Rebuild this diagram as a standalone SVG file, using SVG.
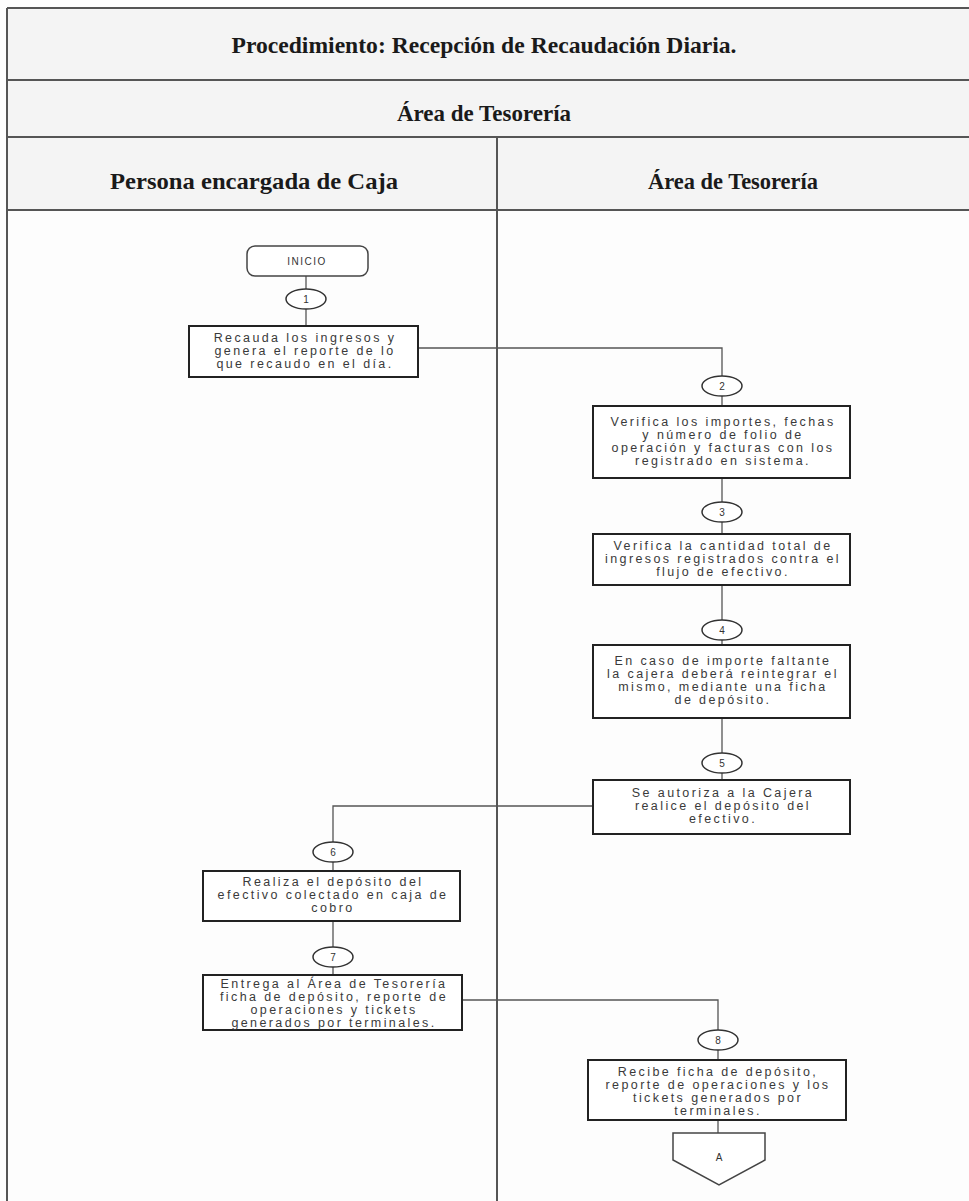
<svg xmlns="http://www.w3.org/2000/svg" width="969" height="1201" viewBox="0 0 969 1201">
<defs>
<style>
.frame{fill:none;stroke:#555;stroke-width:2}
.hdr{font-family:"Liberation Serif","Times New Roman",serif;font-weight:bold;fill:#1a1a1a;text-anchor:middle}
.box{fill:#fff;stroke:#222;stroke-width:2}
.term{fill:#fff;stroke:#444;stroke-width:1.5}
.num{fill:#fff;stroke:#333;stroke-width:1.5}
.t{font-family:"Liberation Sans",Arial,sans-serif;font-size:12.5px;letter-spacing:2.4px;fill:#3a3a3a;text-anchor:middle}
.n{font-family:"Liberation Sans",Arial,sans-serif;font-size:10px;fill:#333;text-anchor:middle}
.conn{fill:none;stroke:#555;stroke-width:1.3}
</style>
</defs>
<rect x="0" y="0" width="969" height="1201" fill="#fdfdfd"/>
<g id="table">
<rect x="7" y="8" width="962" height="202" fill="#f4f4f4"/>
<line class="frame" x1="7" y1="8" x2="969" y2="8"/>
<line class="frame" x1="7" y1="80" x2="969" y2="80"/>
<line class="frame" x1="7" y1="137" x2="969" y2="137"/>
<line class="frame" x1="7" y1="210" x2="969" y2="210"/>
<line class="frame" x1="7" y1="8" x2="7" y2="1201"/>
<line class="frame" x1="497" y1="137" x2="497" y2="1201" stroke-width="1.5"/>
<text class="hdr" x="484" y="53" font-size="23" textLength="505" lengthAdjust="spacingAndGlyphs">Procedimiento: Recepción de Recaudación Diaria.</text>
<text class="hdr" x="484" y="121" font-size="23" textLength="174" lengthAdjust="spacingAndGlyphs">Área de Tesorería</text>
<text class="hdr" x="254" y="189" font-size="24" textLength="288" lengthAdjust="spacingAndGlyphs">Persona encargada de Caja</text>
<text class="hdr" x="733" y="189" font-size="24" textLength="170" lengthAdjust="spacingAndGlyphs">Área de Tesorería</text>
</g>
<g id="connectors">
<line class="conn" x1="306" y1="276" x2="306" y2="289"/>
<line class="conn" x1="306" y1="309" x2="306" y2="326"/>
<path class="conn" d="M418,348 H722 V376"/>
<line class="conn" x1="722" y1="396" x2="722" y2="406"/>
<line class="conn" x1="722" y1="478" x2="722" y2="502"/>
<line class="conn" x1="722" y1="522" x2="722" y2="534"/>
<line class="conn" x1="722" y1="585" x2="722" y2="620"/>
<line class="conn" x1="722" y1="640" x2="722" y2="645"/>
<line class="conn" x1="722" y1="718" x2="722" y2="753"/>
<line class="conn" x1="722" y1="773" x2="722" y2="780"/>
<path class="conn" d="M593,806 H333 V842"/>
<line class="conn" x1="333" y1="862" x2="333" y2="871"/>
<line class="conn" x1="333" y1="921" x2="333" y2="947"/>
<line class="conn" x1="333" y1="967" x2="333" y2="975"/>
<path class="conn" d="M462,1000 H718 V1030"/>
<line class="conn" x1="718" y1="1050" x2="718" y2="1060"/>
<line class="conn" x1="718" y1="1120" x2="718" y2="1133"/>
</g>
<g id="inicio">
<rect class="term" x="247" y="246" width="121" height="30" rx="8"/>
<text class="n" x="307" y="265" font-size="11" letter-spacing="1.5">INICIO</text>
</g>
<g id="n1">
<ellipse class="num" cx="306" cy="299" rx="20" ry="10"/>
<text class="n" x="306" y="303">1</text>
</g>
<g id="step1">
<rect class="box" x="189" y="326" width="229" height="51"/>
<text class="t" x="305" y="342">Recauda los ingresos y</text>
<text class="t" x="305" y="355">genera el reporte de lo</text>
<text class="t" x="305" y="368">que recaudo en el día.</text>
</g>
<g id="n2">
<ellipse class="num" cx="722" cy="386" rx="20" ry="10"/>
<text class="n" x="722" y="390">2</text>
</g>
<g id="step2">
<rect class="box" x="593" y="406" width="257" height="72"/>
<text class="t" x="723" y="426">Verifica los importes, fechas</text>
<text class="t" x="723" y="439">y número de folio de</text>
<text class="t" x="723" y="452">operación y facturas con los</text>
<text class="t" x="723" y="465">registrado en sistema.</text>
</g>
<g id="n3">
<ellipse class="num" cx="722" cy="512" rx="20" ry="10"/>
<text class="n" x="722" y="516">3</text>
</g>
<g id="step3">
<rect class="box" x="593" y="534" width="257" height="51"/>
<text class="t" x="723" y="550">Verifica la cantidad total de</text>
<text class="t" x="723" y="563">ingresos registrados contra el</text>
<text class="t" x="723" y="576">flujo de efectivo.</text>
</g>
<g id="n4">
<ellipse class="num" cx="722" cy="630" rx="20" ry="10"/>
<text class="n" x="722" y="634">4</text>
</g>
<g id="step4">
<rect class="box" x="593" y="645" width="257" height="73"/>
<text class="t" x="723" y="665">En caso de importe faltante</text>
<text class="t" x="723" y="678">la cajera deberá reintegrar el</text>
<text class="t" x="723" y="691">mismo, mediante una ficha</text>
<text class="t" x="723" y="704">de depósito.</text>
</g>
<g id="n5">
<ellipse class="num" cx="722" cy="763" rx="20" ry="10"/>
<text class="n" x="722" y="767">5</text>
</g>
<g id="step5">
<rect class="box" x="593" y="780" width="257" height="54"/>
<text class="t" x="723" y="797">Se autoriza a la Cajera</text>
<text class="t" x="723" y="810">realice el depósito del</text>
<text class="t" x="723" y="823">efectivo.</text>
</g>
<g id="n6">
<ellipse class="num" cx="333" cy="852" rx="20" ry="10"/>
<text class="n" x="333" y="856">6</text>
</g>
<g id="step6">
<rect class="box" x="203" y="871" width="257" height="50"/>
<text class="t" x="333" y="886">Realiza el depósito del</text>
<text class="t" x="333" y="899">efectivo colectado en caja de</text>
<text class="t" x="333" y="912">cobro</text>
</g>
<g id="n7">
<ellipse class="num" cx="333" cy="957" rx="20" ry="10"/>
<text class="n" x="333" y="961">7</text>
</g>
<g id="step7">
<rect class="box" x="203" y="975" width="259" height="55"/>
<text class="t" x="334" y="988">Entrega al Área de Tesorería</text>
<text class="t" x="334" y="1001">ficha de depósito, reporte de</text>
<text class="t" x="334" y="1014">operaciones y tickets</text>
<text class="t" x="334" y="1027">generados por terminales.</text>
</g>
<g id="n8">
<ellipse class="num" cx="718" cy="1040" rx="20" ry="10"/>
<text class="n" x="718" y="1044">8</text>
</g>
<g id="step8">
<rect class="box" x="588" y="1060" width="258" height="60"/>
<text class="t" x="718" y="1076">Recibe ficha de depósito,</text>
<text class="t" x="718" y="1089">reporte de operaciones y los</text>
<text class="t" x="718" y="1102">tickets generados por</text>
<text class="t" x="718" y="1115">terminales.</text>
</g>
<g id="offpage">
<polygon class="term" points="673,1133 765,1133 765,1160 719,1185 673,1160"/>
<text class="n" x="719" y="1161" font-size="12">A</text>
</g>
</svg>
